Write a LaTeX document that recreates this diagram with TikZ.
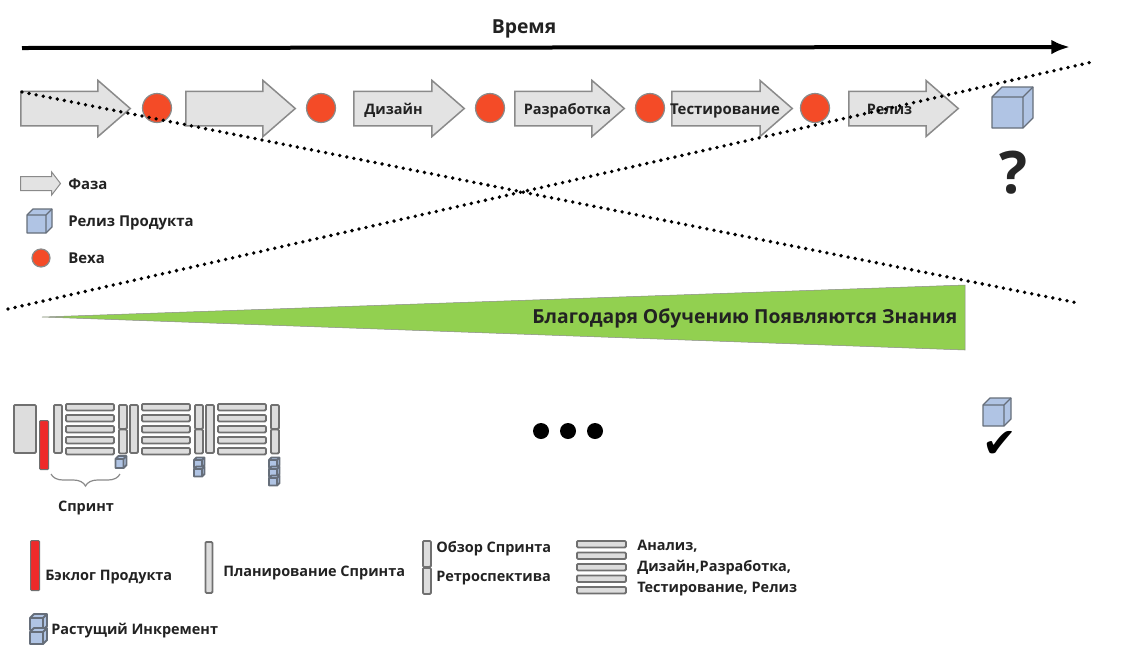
\documentclass[tikz,border=0pt]{standalone}
\usepackage{fontspec}
\setmainfont{Open Sans}
\newfontfamily\symbfont{DejaVu Sans}
\usetikzlibrary{positioning, arrows.meta, shapes.arrows, decorations.pathreplacing}
\definecolor{phasegray}{HTML}{E3E3E3}
\definecolor{edgegray}{HTML}{8A8A8A}
\definecolor{baredge}{HTML}{707070}
\definecolor{barfill}{HTML}{DDDDDD}
\definecolor{milestone}{HTML}{F44B27}
\definecolor{cubeblue}{HTML}{B0C4E4}
\definecolor{cubeedge}{HTML}{666E7A}
\definecolor{backlog}{HTML}{EE2A2A}
\definecolor{wedge}{HTML}{92D050}
\definecolor{inktext}{HTML}{222222}
\def\pxu{0.75pt}

\begin{document}
\begin{tikzpicture}[x=0.75pt, y=-0.75pt,
                phase/.style={single arrow, draw=edgegray, fill=phasegray, line width=1.5*\pxu, anchor=west,
                    inner sep=0pt, text width=0pt, text depth=0pt, text height=33*\pxu,
                    single arrow head extend=10.8*\pxu, single arrow tip angle=82, single arrow head indent=0pt},
                phasesm/.style={phase, line width=1*\pxu, text height=13*\pxu,
                    single arrow head extend=4.5*\pxu, single arrow tip angle=105},
                veha/.style={circle, draw=edgegray, fill=milestone, line width=1.2*\pxu, inner sep=0pt, minimum size=29*\pxu},
                lbl/.style={anchor=west, inner sep=0pt, text=inktext, text height=8pt, text depth=0pt, font=\fontsize{11.2pt}{13pt}\selectfont\bfseries},
                lblc/.style={lbl, anchor=center},
                lowlbl/.style={lbl, font=\fontsize{10.85pt}{13pt}\selectfont\bfseries},
                biglbl/.style={text height=10.4pt, font=\fontsize{14.5pt}{17pt}\selectfont\bfseries},
                bar/.style={draw=baredge, fill=barfill, line width=1.8*\pxu, rounded corners=0.8pt, inner sep=0pt, anchor=north west},
                hbar/.style={bar, minimum width=48*\pxu, minimum height=6.5*\pxu},
                vbar/.style={bar, minimum width=8*\pxu, minimum height=48*\pxu},
                rbar/.style={bar, minimum width=8*\pxu, minimum height=24*\pxu},
                redbar/.style={bar, fill=backlog, line width=1.1*\pxu, minimum width=9*\pxu, minimum height=49*\pxu},
                dotline/.style={line width=3.8*\pxu, line cap=round, dash pattern=on 0pt off 7.2*\pxu},
                cubeln/.style={line width=1.3*\pxu},
                smallcube/.style={cubeln/.style={line width=1.9*\pxu}},
                pics/relcube/.style n args={3}{code={
                    \draw[fill=cubeblue, draw=cubeedge, cubeln, line join=round] (0,0) -- (#3,-#3) -- (#1+#3,-#3) -- (#1+#3,#2-#3) -- (#1,#2) -- (0,#2) -- cycle;
                    \draw[draw=cubeedge, cubeln] (0,0) -- (#1,0) -- (#1,#2) (#1,0) -- (#1+#3,-#3);}}]

    \useasboundingbox (0,0) rectangle (1123,658); % same size as the reference

    % time axis
    \node[lblc, biglbl] (time) at (524,26.5) {Время};
    \coordinate (t0) at (22,48);
    \coordinate (t1) at (1070,47);
    \draw[line width=4*\pxu, -{Latex[length=14pt, width=11pt]}] (t0) -- (t1);

    % phases and milestones
    \node[phase, minimum height=109.5*\pxu] (f1) at (20,108.5) {};
    \node[phase, minimum height=109.5*\pxu] (f2) at (185,108.5) {};
    \node[phase, minimum height=110.5*\pxu] (f3) at (353,108.5) {};
    \node[phase, minimum height=109.5*\pxu] (f4) at (514,108.5) {};
    \node[phase, minimum height=120.5*\pxu] (f5) at (671,108.5) {};
    \node[phase, minimum height=109.5*\pxu] (f6) at (848,108.5) {};
    \node[lblc, lowlbl, anchor=center] (fl3) at (393.5,109) {Дизайн};
    \node[lblc, lowlbl, anchor=center] (fl4) at (567.5,109) {Разработка};
    \node[lblc] (fl5) at (725,109) {Тестирование};
    \node[lblc, lowlbl, anchor=center] (fl6) at (889.5,109) {Релиз};
    \foreach \n/\x in {1/157, 2/321, 3/490, 4/650, 5/815}
        \node[veha] (m\n) at (\x,108) {};
    \pic (c1) at (992,97) {relcube={31}{31}{10}};
    \node[inner sep=0pt, text=black!85, font=\fontsize{44pt}{46pt}\selectfont\bfseries] (quest) at (1013,172.5) {?};

    % upper legend
    \node[phasesm, minimum height=40*\pxu] (lf) at (20,183.5) {};
    \node[lbl] (lfl) at (68,184) {Фаза};
    \pic (lc) at (27,215) {relcube={19}{18}{6}};
    \node[lbl] (lcl) at (68,221) {Релиз Продукта};
    \node[veha, minimum size=18*\pxu] (lm) at (41,258) {};
    \node[lbl] (lml) at (68,258.5) {Веха};

    % knowledge wedge
    \draw[fill=wedge, draw=edgegray, line width=0.5*\pxu] (42,317) -- (965,285) -- (965,350) -- cycle;
    \node[lbl, biglbl, anchor=east] (know) at (957.5,317) {Благодаря Обучению Появляются Знания};

    % crossing lines
    \coordinate (a0) at (22,92);
    \coordinate (a1) at (1078,303);
    \coordinate (b0) at (8,309);
    \coordinate (b1) at (1092,62);
    \draw[dotline] (a0) -- (a1);
    \draw[dotline] (b0) -- (b1);

    % sprints
    \node[bar, minimum width=22*\pxu, minimum height=48*\pxu] (prod) at (13,404) {};
    \node[redbar] (blog) at (39,420) {};
    \foreach \s/\x in {1/53, 2/129, 3/205} {
        \node[vbar] (pl\s) at (\x,404) {};
        \foreach \k/\y in {1/403, 2/414, 3/425, 4/436, 5/447}
            \node[hbar] (w\s\k) at (\x+12,\y) {};
        \node[rbar] (rv\s) at (\x+65,404) {};
        \node[rbar] (rt\s) at (\x+65,428.5) {};
    }
    \pic[smallcube] (i1) at (115.5,459) {relcube={8}{9}{3}};
    \foreach \y [count=\k] in {460,469}
        \pic[smallcube] (ii\k) at (194,\y) {relcube={8}{7.5}{2.5}};
    \foreach \y [count=\k] in {460,469,478}
        \pic[smallcube] (iii\k) at (269,\y) {relcube={8}{7.5}{2.5}};
    \coordinate (br0) at (120,474);
    \coordinate (br1) at (51,474);
    \draw[decorate, decoration={brace, amplitude=9pt}, draw=edgegray, line width=1.2*\pxu] (br0) -- (br1);
    \node[lblc, lowlbl, anchor=center] (spr) at (86,506.5) {Спринт};

    % the gap
    \foreach \n/\x in {1/541, 2/568, 3/595}
        \node[circle, fill=black, inner sep=0pt, minimum size=16*\pxu] (gap\n) at (\x,431) {};

    % finished product
    \pic (c2) at (983,405) {relcube={21}{21}{7}};
    \node[inner sep=0pt, text=black, font=\fontsize{31pt}{33pt}\selectfont\symbfont] (tick) at (1000,444) {✔};

    % lower legend
    \node[redbar, minimum height=50*\pxu] (lb) at (30,540) {};
    \node[lowlbl] (lbl1) at (45,575) {Бэклог Продукта};
    \node[bar, minimum width=7*\pxu, minimum height=51*\pxu] (lp) at (204.5,541) {};
    \node[lowlbl] (lbl2) at (223,571) {Планирование Спринта};
    \node[rbar, minimum height=26*\pxu] (lr1) at (422,540) {};
    \node[rbar, minimum height=26*\pxu] (lr2) at (422,567) {};
    \node[lowlbl] (lbl3) at (436,547.5) {Обзор Спринта};
    \node[lowlbl] (lbl4) at (436,576.5) {Ретроспектива};
    \foreach \k/\y in {1/540, 2/551.5, 3/563, 4/574.5, 5/586}
        \node[hbar, minimum width=49*\pxu] (lw\k) at (576,\y) {};
    \node[lowlbl] (lbl5) at (637,545.5) {Анализ,};
    \node[lowlbl] (lbl6) at (637,566.5) {Дизайн,Разработка,};
    \node[lowlbl] (lbl7) at (637,587.5) {Тестирование, Релиз};
    \pic[smallcube] (li1) at (30,618) {relcube={13}{12}{4}};
    \pic[smallcube] (li2) at (30,632) {relcube={13}{12}{4}};
    \node[lowlbl] (lbl8) at (51,629) {Растущий Инкремент};

\end{tikzpicture}
\end{document}
